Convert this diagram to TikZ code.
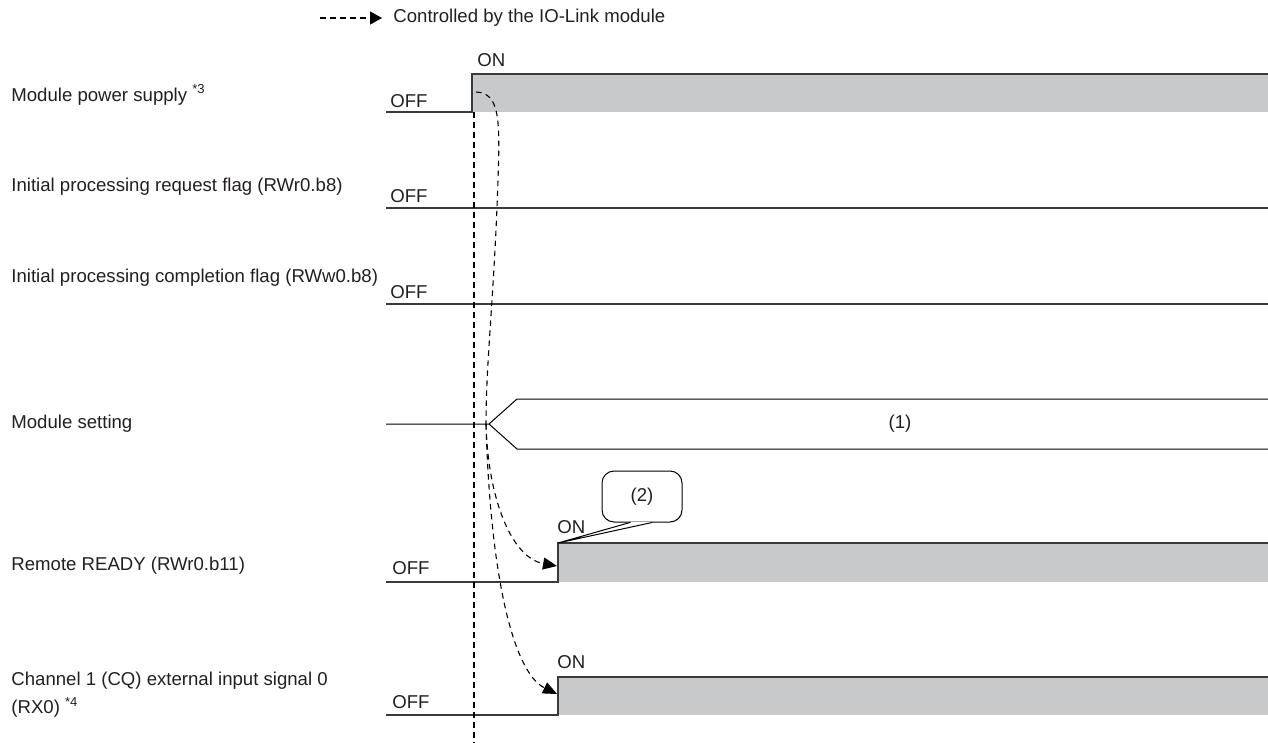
\documentclass[tikz,border=0pt]{standalone}
\usepackage{fontspec}
\setmainfont{Liberation Sans}
\usetikzlibrary{arrows.meta}
\definecolor{TCLine}{HTML}{3A3A3A}
\definecolor{TCFill}{HTML}{C8C9CA}
\definecolor{TCText}{HTML}{231F20}

\begin{document}
\begin{tikzpicture}[x=0.5pt,y=-0.5pt,
  font=\fontsize{9.3}{11}\selectfont,
  sig/.style={TCLine,line width=0.6pt},
  ctrl/.style={black,line width=0.55pt,dash pattern=on 2.8pt off 2.2pt},
  ctrltip/.style={-{Triangle[length=7pt,width=6pt]}},
  lbl/.style={anchor=west,inner sep=0pt,text=TCText}]
\path[use as bounding box] (0,0) rectangle (1268,743);
% legend
\coordinate (lgdstart) at (320,18);
\coordinate (lgdtip) at (382,18);
\node[lbl] (lgd) at (393,18) {Controlled by the IO-Link module};
\draw[ctrl,-{Triangle[length=6pt,width=6.5pt]}] (lgdstart) -- (lgdtip);
% signal names
\node[lbl] (lpow) at (11,95) {Module power supply \textsuperscript{*3}};
\node[lbl] (lreq) at (11,187) {Initial processing request flag (RWr0.b8)};
\node[lbl] (lcmp) at (11,278) {Initial processing completion flag (RWw0.b8)};
\node[lbl] (lset) at (11,424) {Module setting};
\node[lbl] (lrdy) at (11,566) {Remote READY (RWr0.b11)};
\node[lbl,align=left] (lch) at (11,695) {Channel 1 (CQ) external input signal 0\\[3pt](RX0) \textsuperscript{*4}};
% module power supply
\fill[TCFill] (472,74) rectangle (1268,112);
\draw[sig] (386,112) -- (472,112) -- (472,74) -- (1268,74);
\node[lbl] (powoff) at (390,101) {OFF};
\node[lbl] (powon) at (477,60) {ON};
% request / completion flags
\draw[sig] (386,208) -- (1268,208);
\node[lbl] (reqoff) at (390,196) {OFF};
\draw[sig] (386,304) -- (1268,304);
\node[lbl] (cmpoff) at (390,292) {OFF};
% module setting
\draw[black,line width=0.5pt] (386,424) -- (489,424) -- (517,399) -- (1268,399);
\draw[black,line width=0.5pt] (489,424) -- (517,449) -- (1268,449);
\node[text=TCText] (set1) at (900,424) {(1)};
% remote READY
\fill[TCFill] (558,543) rectangle (1268,582);
\draw[sig] (386,582) -- (558,582) -- (558,543) -- (1268,543);
\coordinate (rdytop) at (558,543);
\node[lbl] (rdyoff) at (392,568) {OFF};
\node[lbl] (rdyon) at (557,527) {ON};
% callout (2)
\node[draw=black,line width=0.5pt,rounded corners=6pt,minimum width=40pt,
  minimum height=25.5pt,text=TCText] (call) at (642,496.5) {(2)};
\draw[white,line width=1pt] ([xshift=-5.5pt]call.south) -- ([xshift=4.5pt]call.south);
\draw[black,line width=0.5pt] ([xshift=-6pt]call.south) -- (rdytop) -- ([xshift=5pt]call.south);
% channel 1 input
\fill[TCFill] (558,677) rectangle (1268,715);
\draw[sig] (386,715) -- (558,715) -- (558,677) -- (1268,677);
\node[lbl] (choff) at (392,702) {OFF};
\node[lbl] (chon) at (557,662) {ON};
% controlled transitions
\coordinate (pwrise) at (476,92);
\coordinate (split) at (486,424);
\coordinate (rdytip) at (557,566);
\coordinate (chtip) at (557,694);
\draw[ctrl] (474,112) -- (474,743);
\draw[ctrl] (pwrise) .. controls (500,93) and (500,120) .. (498,180)
  .. controls (494,300) and (486,360) .. (split);
\draw[ctrl,ctrltip] (split) .. controls (488,500) and (512,558) .. (rdytip);
\draw[ctrl,ctrltip] (split) .. controls (490,570) and (512,672) .. (chtip);
\end{tikzpicture}
\end{document}
